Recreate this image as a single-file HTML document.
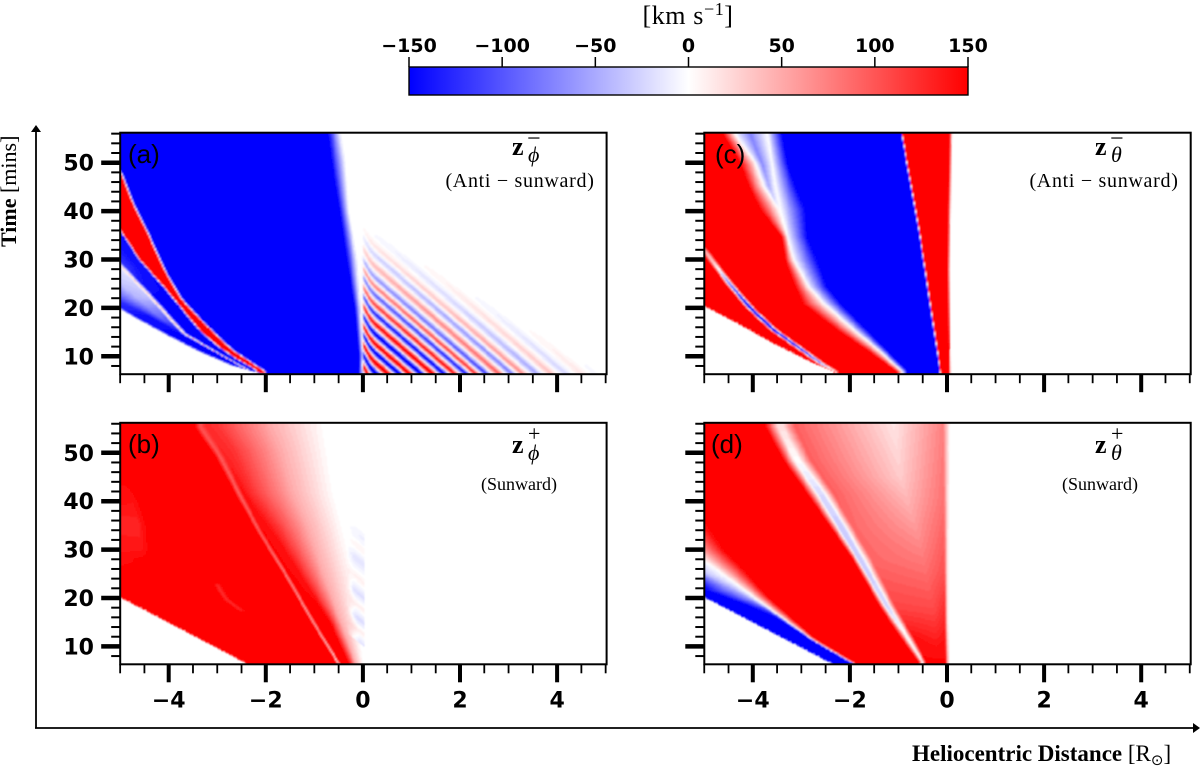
<!DOCTYPE html>
<html lang="en">
<head>
<meta charset="utf-8">
<title>Heliocentric distance vs time panels</title>
<style>
html,body{margin:0;padding:0;background:#fff;}
svg{display:block;}
.tick-label{font-family:"DejaVu Sans",sans-serif;font-weight:700;font-size:22px;fill:#000;}
.cb-label{font-family:"DejaVu Sans",sans-serif;font-weight:700;font-size:19px;fill:#000;}
.panel-letter{font-family:"Liberation Sans",sans-serif;font-size:26px;fill:#000;}
.serif{font-family:"Liberation Serif",serif;fill:#000;}
.sub{font-family:"Liberation Serif",serif;font-style:italic;font-size:22px;fill:#000;}
.bold-z{font-family:"Liberation Serif",serif;font-weight:700;font-size:26px;fill:#000;}
.note{font-family:"Liberation Serif",serif;font-size:20px;letter-spacing:0.7px;fill:#000;}
.note-short{font-family:"Liberation Serif",serif;font-size:18px;fill:#000;}
</style>
</head>
<body>
<svg id="figure" xmlns="http://www.w3.org/2000/svg" width="1200" height="768" viewBox="0 0 1200 768">
  <defs>
    <filter id="soft" filterUnits="userSpaceOnUse" x="0" y="0" width="1200" height="768"><feGaussianBlur stdDeviation="0.7"/></filter>
    <linearGradient id="bwr" x1="0" x2="1" y1="0" y2="0">
      <stop offset="0" stop-color="#0000ff"/><stop offset="0.5" stop-color="#ffffff"/><stop offset="1" stop-color="#ff0000"/>
    </linearGradient>
    <clipPath id="clip-a"><rect x="120" y="133" width="487" height="241"/></clipPath>
    <clipPath id="clip-b"><rect x="120" y="423.5" width="487" height="241"/></clipPath>
    <clipPath id="clip-c"><rect x="704" y="133" width="487" height="241"/></clipPath>
    <clipPath id="clip-d"><rect x="704" y="423.5" width="487" height="241"/></clipPath>
  </defs>
  <rect width="1200" height="768" fill="#fff"/>

  <g id="heat-layer"></g>
  <g id="axis-layer"></g>

  <!-- colour bar -->
  <g>
    <rect x="409" y="67" width="559" height="28" fill="url(#bwr)" stroke="#000" stroke-width="1.4"/>
    <g id="colorbar-ticks"></g>
    <text class="serif" x="688" y="24" font-size="26" letter-spacing="0.6" text-anchor="middle">[km s<tspan font-size="18" dy="-9">−1</tspan><tspan dy="9">]</tspan></text>
  </g>

  <!-- outer arrows -->
  <g>
    <line x1="36" y1="728" x2="36" y2="130" stroke="#000" stroke-width="1.8"/>
    <polygon points="36,125 31,132 41,132" fill="#000"/>
    <line x1="35" y1="728" x2="1194" y2="728" stroke="#000" stroke-width="1.8"/>
    <polygon points="1200,728 1193,723 1193,733" fill="#000"/>
  </g>
  <text class="serif" font-size="22" transform="translate(16,247) rotate(-90)"><tspan font-weight="700">Time</tspan> [mins]</text>
  <text class="serif" font-size="23" x="912" y="761"><tspan font-weight="700">Heliocentric Distance</tspan> [R<tspan font-size="15" dy="4" font-family="DejaVu Sans">⊙</tspan><tspan dy="-4">]</tspan></text>

  <!-- panel letters -->
  <text class="panel-letter" x="128" y="163">(a)</text>
  <text class="panel-letter" x="128" y="453">(b)</text>
  <text class="panel-letter" x="715" y="163">(c)</text>
  <text class="panel-letter" x="711" y="453">(d)</text>

  <!-- panel annotations -->
  <g>
    <text class="bold-z" x="512" y="155">z</text><text class="sub" x="528" y="162">ϕ</text><text class="serif" font-size="24" x="527" y="146">−</text>
    <text class="note" x="520" y="187" text-anchor="middle">(Anti − sunward)</text>
  </g>
  <g>
    <text class="bold-z" x="512" y="453">z</text><text class="sub" x="528" y="460">ϕ</text><text class="serif" font-size="22" x="528" y="441">+</text>
    <text class="note-short" x="519" y="490" text-anchor="middle">(Sunward)</text>
  </g>
  <g>
    <text class="bold-z" x="1095" y="155">z</text><text class="sub" x="1111" y="162">θ</text><text class="serif" font-size="24" x="1110" y="146">−</text>
    <text class="note" x="1104" y="187" text-anchor="middle">(Anti − sunward)</text>
  </g>
  <g>
    <text class="bold-z" x="1095" y="453">z</text><text class="sub" x="1111" y="460">θ</text><text class="serif" font-size="22" x="1111" y="441">+</text>
    <text class="note-short" x="1100" y="490" text-anchor="middle">(Sunward)</text>
  </g>
</svg>

<script>
/* ===== chart data: tick values and labels ===== */
const distanceMajorTicks = [-4, -2, 0, 2, 4];
const distanceTickLabels = ['−4', '−2', '0', '2', '4'];
const distanceMinorTicks = [-5, -4.5, -3.5, -3, -2.5, -1.5, -1, -0.5, 0.5, 1, 1.5, 2.5, 3, 3.5, 4.5, 5];
const timeMajorTicks = [10, 20, 30, 40, 50];
const timeTickLabels = ['10', '20', '30', '40', '50'];
const timeMinorTicks = [8, 12, 14, 16, 18, 22, 24, 26, 28, 32, 34, 36, 38, 42, 44, 46, 48, 52, 54, 56];
const colorbarTicks = [-150, -100, -50, 0, 50, 100, 150];
const colorbarLabels = ['−150', '−100', '−50', '0', '50', '100', '150'];

/* ===== heatmap data =====
   Each feature is a curve of [minutes, R_sun, km/s] samples. */

/* panel (a) */
const aEdge = [[6.3,-2.04,-150],[8,-2.66,-150],[11,-3.35,-150],[14.5,-4.03,-150],[18.3,-4.72,-140],[20,-5,-130],[25,-5.8,-130],[60,-9,-130]];
const aPaleStart = [[6.3,-2.25,-150],[11,-3.1,-150],[14.7,-3.83,-150],[18.1,-4.38,-140],[21.2,-4.98,-120],[24,-5.5,-120],[60,-8.5,-120]];
const aPaleMid = [[6.3,-2.25,-150],[11,-3.07,-150],[14.7,-3.75,-150],[18.1,-4.2,-85],[22,-4.65,-45],[26,-5.1,-30],[60,-8.4,-30]];
const aPinkLeft = [[6.8,-2.35,-150],[10.6,-3.05,-150],[14.7,-3.74,-135],[18.5,-4.1,-85],[22.3,-4.43,-35],[28.5,-5.03,-15],[60,-8.3,-15]];
const aPink = [[6.8,-2.32,70],[10.6,-3,70],[14.7,-3.69,55],[22.3,-4.38,40],[28.5,-4.98,30],[60,-8.25,30]];
const aPinkRight = [[6.8,-2.27,-150],[10.6,-2.95,-150],[14.7,-3.64,-150],[22.3,-4.31,-150],[28.5,-4.9,-120],[60,-8.2,-120]];
const aRedLower = [[7.1,-2.18,150],[9.9,-2.66,150],[12.3,-3,150],[15.4,-3.35,150],[19.5,-3.69,150],[23.7,-4.03,150],[29.9,-4.58,150],[36,-4.98,150],[40,-5.3,150],[60,-8,150]];
const aRedUpper = [[6.8,-2.04,150],[11.3,-2.72,150],[14.7,-3.08,150],[18.1,-3.42,150],[21.9,-3.77,150],[27.8,-4.11,150],[34.7,-4.42,150],[42.3,-4.79,150],[47.4,-4.98,150],[52,-5.3,150],[60,-6,150]];
const aBlueEnd = [[6.3,-0.08,-150],[10,-0.07,-150],[20,-0.16,-150],[30,-0.33,-150],[40,-0.47,-150],[50,-0.64,-150],[56.2,-0.72,-150]];
const aWhiteStart = [[6.3,0,0],[10,0,0],[20,-0.05,0],[30,-0.12,0],[40,-0.29,0],[50,-0.36,0],[56.2,-0.46,0]];
const aWaveCrests = [-0.2,0.01,0.29,0.53,0.77,0.97,1.21,1.45,1.69,1.9,2.14,2.34,2.55,2.82,3.09,3.3,3.6,3.9,4.2,4.53,4.85];
const aWaveSigns = [-1,1,-1,1,-1,1,-1,1,-1,1,-1,1,-1,1,-1,1,-1,1,-1,1,-1];
const aEnvelopePos = [0,0.3,0.45,0.6,0.8,1];
const aEnvelopeLevel = [260,220,150,90,35,0];

/* panel (b) */
const bEdge = [[6.4,-2.39,150],[20,-4.98,150],[25,-5.9,150],[60,-9,150]];
const bPatchA = [[20,-5.2,150],[26,-5,150],[30,-5,135],[36,-5,130],[40,-5,140],[44,-5,150],[56.2,-5,150]];
const bPatchB = [[6.3,-2.36,150],[28,-4.6,150],[30,-4.55,135],[35,-4.6,130],[40,-4.75,138],[44,-4.95,150],[56.2,-5,150]];
const bPatchC = [[6.3,-2.35,150],[28,-4.45,150],[30,-4.42,150],[35,-4.47,150],[40,-4.62,150],[44,-4.85,150],[56.2,-4.9,150]];
const bStreakL = [[6.3,-2.3,150],[17,-2.53,150],[19.5,-2.88,150],[23,-3.1,150],[56.2,-3.7,150]];
const bStreakC = [[6.3,-2.29,150],[17,-2.45,150],[17.5,-2.52,125],[19.5,-2.8,122],[22.6,-3,125],[23,-3.02,150],[56.2,-3.68,150]];
const bStreakR = [[6.3,-2.28,150],[17,-2.37,150],[19.5,-2.72,150],[23,-2.94,150],[56.2,-3.66,150]];
const bLineL = [[6.4,-0.53,150],[14.7,-1.04,150],[24.3,-1.6,150],[33.3,-2.16,150],[40.9,-2.59,150],[49.1,-3.03,150],[55.3,-3.47,150]];
const bLine = [[6.4,-0.5,15],[14.7,-1.01,45],[24.3,-1.56,70],[33.3,-2.11,90],[40.9,-2.52,90],[49.1,-2.94,95],[55.3,-3.35,100]];
const bLineR = [[6.4,-0.47,150],[14.7,-0.97,150],[24.3,-1.51,150],[33.3,-2.05,150],[40.9,-2.44,145],[49.1,-2.84,130],[55.3,-3.22,125]];
const bFadeHigh = [[6.4,-0.29,150],[14.7,-0.67,150],[24.3,-1.29,145],[34.7,-1.9,135],[41.6,-2.32,125],[50.5,-2.66,120],[55.3,-3,120]];
const bFadeMid = [[6.4,-0.15,50],[14.7,-0.45,50],[24.3,-0.8,50],[34.7,-1.15,50],[41.6,-1.45,50],[50.5,-1.7,50],[55.3,-1.9,50]];
const bFadeWhite = [[6.4,0,0],[14.7,-0.12,0],[24.3,-0.19,0],[34.7,-0.43,0],[41.6,-0.6,0],[50.5,-0.74,0],[55.3,-0.81,0]];
const bWaveCrests = [0.44,0.72,1,1.3,1.6,1.95,2.4,2.7,3,3.3,3.6];
const bWaveSigns = [-1,0.5,-1,0.5,-1,0.5,-1,0.5,-1,0.5,-1];
const bEnvelopePos = [0,0.2,0.7,1];
const bEnvelopeLevel = [18,22,18,0];

/* panel (c) */
const cEdge = [[6.8,-2.33,150],[8.5,-2.74,150],[12.6,-3.57,150],[16.8,-4.32,150],[20.2,-4.97,150],[25,-5.9,150],[60,-9,150]];
const cLineOuterL = [[6.8,-2.38,150],[8.5,-2.68,150],[12,-3.17,150],[15.4,-3.65,150],[19.9,-4.13,150],[24.7,-4.54,150],[29.2,-4.88,150],[31.6,-5.05,150],[60,-8.1,150]];
const cLineDarkL = [[6.8,-2.31,30],[8.5,-2.62,-60],[12,-3.11,-150],[15.4,-3.6,-150],[19.9,-4.08,-150],[24.7,-4.48,-80],[29.2,-4.82,30],[31.6,-4.99,50],[60,-8.05,50]];
const cLineDarkR = [[6.8,-2.29,30],[8.5,-2.58,-60],[12,-3.07,-150],[15.4,-3.54,-150],[19.9,-4.02,-150],[24.7,-4.44,-80],[29.2,-4.78,30],[31.6,-4.95,50],[60,-8,50]];
const cLineOuterR = [[6.8,-2.24,150],[8.5,-2.52,150],[12,-3.01,150],[15.4,-3.49,150],[19.9,-3.97,150],[24.7,-4.38,150],[29.2,-4.72,150],[31.6,-4.89,150],[60,-7.9,150]];
const cRedEnd = [[6.8,-1.03,150],[11.3,-1.65,150],[15.4,-2.26,150],[20.9,-2.98,150],[24.3,-3.12,150],[29.9,-3.33,150],[34.7,-3.4,150],[40.2,-3.84,150],[45,-4.08,150],[49.8,-4.25,150],[55.7,-4.6,150]];
const cWhiteOne = [[6.8,-0.93,0],[11.3,-1.42,0],[15.4,-1.92,0],[20.9,-2.54,0],[24.3,-2.85,0],[29.9,-3.16,0],[34.7,-3.29,0],[40.2,-3.46,0],[45,-3.77,0],[49.8,-3.94,0],[55.7,-4.36,0]];
const cLavender = [[6.8,-0.93,0],[11.3,-1.42,0],[15.4,-1.92,0],[20.9,-2.54,0],[24.3,-2.85,0],[29.9,-3.16,0],[34.7,-3.29,0],[40.2,-3.45,0],[45,-3.67,-50],[49.8,-3.81,-70],[55.7,-4.05,-75]];
const cWhiteTwo = [[6.8,-0.93,0],[11.3,-1.42,0],[15.4,-1.92,0],[20.9,-2.54,0],[24.3,-2.85,0],[29.9,-3.16,0],[34.7,-3.29,0],[40.2,-3.43,0],[45,-3.53,0],[49.8,-3.6,0],[55.7,-3.7,0]];
const cBlueStart = [[6.8,-0.82,-150],[11.3,-1.26,-150],[15.4,-1.66,-150],[20.9,-2.2,-150],[24.3,-2.47,-150],[29.9,-2.68,-150],[34.7,-2.88,-150],[40.2,-2.92,-150],[45,-3.12,-150],[49.8,-3.29,-150],[55.7,-3.4,-150]];
const cBlueEnd = [[6.8,-0.155,-150],[18.1,-0.325,-150],[27.8,-0.465,-150],[36,-0.595,-150],[45.7,-0.765,-150],[55.7,-0.945,-150]];
const cThinLine = [[6.8,-0.14,-30],[18.1,-0.31,-30],[27.8,-0.45,-30],[36,-0.58,-30],[45.7,-0.75,-30],[55.7,-0.93,-30]];
const cRedStart = [[6.8,-0.125,150],[18.1,-0.295,150],[27.8,-0.435,150],[36,-0.565,150],[45.7,-0.735,150],[55.7,-0.915,150]];
const cRedEdge = [[6.3,0.05,150],[28,0.02,150],[40,0.03,150],[56.2,0.06,150]];
const cRedEdgeWhite = [[6.3,0.08,0],[28,0.06,0],[40,0.08,0],[56.2,0.11,0]];

/* panel (d) */
const dEdge = [[6.4,-2.37,-150],[20,-4.97,-150],[25,-5.9,-150],[60,-9,-150]];
const dBlueEnd = [[6.4,-1.99,-150],[10.9,-2.74,-150],[16.1,-3.57,-150],[18.5,-4.12,-150],[21.6,-4.97,-150],[35,-6.5,-150]];
const dLavender = [[6.4,-1.95,-150],[11,-2.74,-150],[16.6,-3.57,-120],[20,-4.12,-60],[25,-4.97,-35],[38,-6.5,-35]];
const dWhite = [[6.4,-1.92,10],[11.1,-2.74,10],[17.1,-3.57,0],[21.2,-4.12,0],[27.4,-4.97,0],[40,-6.5,0]];
const dRedStart = [[6.4,-1.89,150],[11.6,-2.74,150],[20.2,-3.7,150],[25.7,-4.18,150],[29.9,-4.6,150],[35.4,-4.97,150],[50,-6.5,150]];
const dRedEnd = [[6.8,-0.58,150],[11.9,-0.96,150],[18.1,-1.37,150],[27.8,-1.92,150],[34.7,-2.4,150],[41.6,-2.88,150],[48.4,-3.36,150],[55.3,-3.74,150]];
const dStreakL = [[6.8,-0.52,10],[11.9,-0.84,5],[18.1,-1.26,-25],[27.8,-1.82,-30],[34.7,-2.24,-30],[41.6,-2.66,-22],[48.4,-3.14,0],[55.3,-3.48,20]];
const dStreakR = [[6.8,-0.5,10],[11.9,-0.8,5],[18.1,-1.2,-25],[27.8,-1.74,-30],[34.7,-2.14,-30],[41.6,-2.56,-22],[48.4,-3.04,0],[55.3,-3.38,20]];
const dPinkStart = [[6.8,-0.44,150],[11.9,-0.7,140],[18.1,-1.06,110],[27.8,-1.55,90],[34.7,-1.95,90],[41.6,-2.34,95],[48.4,-2.8,95],[55.3,-3.13,95]];
const dPaleCentre = [[6.8,-0.2,150],[17,-0.27,110],[31,-0.55,70],[45,-0.96,30],[56.2,-1.1,15]];
const dNearZero = [[6.3,-0.02,150],[15,-0.04,130],[25,-0.05,105],[40,-0.06,85],[56.2,-0.08,75]];
const dZeroWhite = [[6.3,0.03,0],[15,0.02,0],[25,0.02,0],[40,0.03,0],[56.2,0.06,0]];

/* ===== curve lists per panel (left-to-right across each time row) ===== */
const panelACurves = [shifted(aEdge,-0.06,0),aEdge,aPaleStart,aPaleMid,aPinkLeft,aPink,aPinkRight,shifted(aRedLower,-0.04,-150),aRedLower,aRedUpper,shifted(aRedUpper,0.05,-150),aBlueEnd,aWhiteStart];
const panelBCurves = [shifted(bEdge,-0.02,0),bEdge,bPatchA,bPatchB,bPatchC,bStreakL,bStreakC,bStreakR,bLineL,bLine,bLineR,bFadeHigh,bFadeMid,bFadeWhite];
const panelCCurves = [shifted(cEdge,-0.02,0),cEdge,cLineOuterL,cLineDarkL,cLineDarkR,cLineOuterR,cRedEnd,cWhiteOne,cLavender,cWhiteTwo,cBlueStart,cBlueEnd,cThinLine,cRedStart,cRedEdge,cRedEdgeWhite];
const panelDCurves = [shifted(dEdge,-0.02,0),dEdge,dBlueEnd,dLavender,dWhite,dRedStart,dRedEnd,dStreakL,dStreakR,dPinkStart,dPaleCentre,dNearZero,dZeroWhite];

function shifted(curve, dx, level){
  return curve.map(function(p){ return [p[0], p[1] + dx, level]; });
}

/* ===== scales ===== */
const SVGNS = 'http://www.w3.org/2000/svg';
const PX_PER_R = 48.55;
const PX_PER_MIN = 4.84;
const T_BOTTOM = 6.3;
const CELL_DX = 0.03;
const CELL_DT = 0.25;

function makeXScale(left){ return function(r){ return left + 242.7 + r * PX_PER_R; }; }
function makeYScale(bottom){ return function(t){ return bottom - (t - T_BOTTOM) * PX_PER_MIN; }; }

function sampleCurve(curve, t){
  if (t <= curve[0][0]) return [curve[0][1], curve[0][2]];
  for (let i = 1; i < curve.length; i++){
    if (t <= curve[i][0]){
      const a = curve[i-1], b = curve[i];
      const f = (t - a[0]) / (b[0] - a[0]);
      return [a[1] + f * (b[1] - a[1]), a[2] + f * (b[2] - a[2])];
    }
  }
  const last = curve[curve.length-1];
  return [last[1], last[2]];
}
function lookup(xs, ys, x){
  if (x < xs[0] || x > xs[xs.length-1]) return 0;
  for (let i = 1; i < xs.length; i++){
    if (x <= xs[i]){
      const f = (x - xs[i-1]) / (xs[i] - xs[i-1]);
      return ys[i-1] + f * (ys[i] - ys[i-1]);
    }
  }
  return 0;
}
function colourOf(v){
  const q = Math.max(-1, Math.min(1, v / 150));
  if (q >= 0){ const g = Math.round(255 * (1 - q)); return 'rgb(255,' + g + ',' + g + ')'; }
  const g = Math.round(255 * (1 + q));
  return 'rgb(' + g + ',' + g + ',255)';
}

/* ===== panels ===== */
const panelConfigs = [
  {id:'a', left:120.2, bottom:374.2, curves:panelACurves, labels:false,
   wave:{crests:aWaveCrests, signs:aWaveSigns, pos:aEnvelopePos, level:aEnvelopeLevel, xmin:-0.02, xmax:5.1, speed:0.115, taper:0.05, bend:0.6}},
  {id:'b', left:120.2, bottom:664.3, curves:panelBCurves, labels:true,
   wave:{crests:bWaveCrests, signs:bWaveSigns, pos:bEnvelopePos, level:bEnvelopeLevel, xmin:-0.34, xmax:0.04, speed:0.115, taper:0.16, bend:0}},
  {id:'c', left:704.3, bottom:374.2, curves:panelCCurves, labels:false, wave:null},
  {id:'d', left:704.3, bottom:664.3, curves:panelDCurves, labels:true, wave:null}
];

function waveValue(w, x, t){
  if (!w || x < w.xmin || x > w.xmax) return 0;
  const near = Math.max(0, 0.3 - x);
  const base = x - w.bend * near * near / 0.3 + w.speed * (t - T_BOTTOM);
  const u = Math.max(0, (x > 0 ? x : 0) / 5 + (t - T_BOTTOM) / 31);
  const taper = Math.min(1, (x - w.xmin) / w.taper);
  return lookup(w.crests, w.signs, base) * lookup(w.pos, w.level, Math.min(u, 1)) * taper;
}

function drawPanel(cfg){
  const xOf = makeXScale(cfg.left), yOf = makeYScale(cfg.bottom);
  const heat = document.getElementById('heat-layer');
  const clipGroup = document.createElementNS(SVGNS, 'g');
  clipGroup.setAttribute('clip-path', 'url(#clip-' + cfg.id + ')');
  
  
  const soft = document.createElementNS(SVGNS, 'g');
  soft.setAttribute('filter', 'url(#soft)');
  soft.setAttribute('shape-rendering', 'crispEdges');
  clipGroup.appendChild(soft);
  heat.appendChild(clipGroup);

  for (let t = T_BOTTOM; t < 56.5; t += CELL_DT){
    const xs = [], vs = [];
    let run = -Infinity;
    cfg.curves.forEach(function(c){
      const s = sampleCurve(c, t);
      run = Math.max(run, s[0]);
      xs.push(run); vs.push(s[1]);
    });
    let idx = 0, runStart = null, runVal = null;
    const flush = function(endX){
      if (runStart === null || runVal === 0) return;
      const cell = document.createElementNS(SVGNS, 'rect');
      
      
      cell.setAttribute('x', xOf(runStart).toFixed(2));
      cell.setAttribute('y', (yOf(t + CELL_DT)).toFixed(2));
      cell.setAttribute('width', (PX_PER_R * (endX - runStart) + 0.3).toFixed(2));
      cell.setAttribute('height', (PX_PER_MIN * CELL_DT + 0.3).toFixed(2));
      cell.setAttribute('fill', colourOf(runVal));
      soft.appendChild(cell);
    };
    for (let x = -5.04; x < 5.06; x += CELL_DX){
      const cx = x + CELL_DX / 2;
      while (idx < xs.length && xs[idx] <= cx) idx++;
      let v;
      if (idx === 0) v = vs[0];
      else if (idx >= xs.length) v = vs[vs.length-1];
      else {
        const w = xs[idx] - xs[idx-1];
        v = w > 0 ? vs[idx-1] + (cx - xs[idx-1]) / w * (vs[idx] - vs[idx-1]) : vs[idx];
      }
      v += waveValue(cfg.wave, cx, t + CELL_DT / 2);
      v = Math.max(-150, Math.min(150, v));
      const q = Math.round(v / 5) * 5;
      if (q !== runVal){ flush(x); runStart = x; runVal = q; }
    }
    flush(5.06);
  }
  drawAxes(cfg, xOf, yOf);
}

function makeTick(layer, name, x1, y1, x2, y2, width){
  const tick = document.createElementNS(SVGNS, 'line');
  
  
  tick.setAttribute('x1', x1); tick.setAttribute('y1', y1);
  tick.setAttribute('x2', x2); tick.setAttribute('y2', y2);
  tick.setAttribute('stroke', '#000');
  tick.setAttribute('stroke-width', width);
  layer.appendChild(tick);
}
function makeLabel(layer, name, cls, x, y, anchor, content){
  const label = document.createElementNS(SVGNS, 'text');
  
  
  label.setAttribute('class', cls);
  label.setAttribute('x', x); label.setAttribute('y', y);
  label.setAttribute('text-anchor', anchor);
  label.textContent = content;
  layer.appendChild(label);
}

function drawAxes(cfg, xOf, yOf){
  const layer = document.getElementById('axis-layer');
  const frame = document.createElementNS(SVGNS, 'rect');
  
  
  frame.setAttribute('x', cfg.left);
  frame.setAttribute('y', cfg.bottom - 241.5);
  frame.setAttribute('width', 486.4);
  frame.setAttribute('height', 241.5);
  frame.setAttribute('fill', 'none');
  frame.setAttribute('stroke', '#000');
  frame.setAttribute('stroke-width', 2);
  layer.appendChild(frame);

  distanceMinorTicks.forEach(function(r){
    makeTick(layer, 'x-minor-tick', xOf(r), cfg.bottom, xOf(r), cfg.bottom + 9, 1.8);
  });
  distanceMajorTicks.forEach(function(r, i){
    makeTick(layer, 'x-major-tick', xOf(r), cfg.bottom, xOf(r), cfg.bottom + 18, 4);
    if (cfg.labels) makeLabel(layer, 'x-tick-label', 'tick-label', xOf(r), cfg.bottom + 43, 'middle', distanceTickLabels[i]);
  });
  timeMinorTicks.forEach(function(t){
    makeTick(layer, 'y-minor-tick', cfg.left, yOf(t), cfg.left - 9, yOf(t), 2);
  });
  timeMajorTicks.forEach(function(t, i){
    makeTick(layer, 'y-major-tick', cfg.left, yOf(t), cfg.left - 19, yOf(t), 4.5);
    if (cfg.id === 'a' || cfg.id === 'b') makeLabel(layer, 'y-tick-label', 'tick-label', 94, yOf(t) + 8, 'end', timeTickLabels[i]);
  });
}

panelConfigs.forEach(drawPanel);

/* ===== colour bar ticks ===== */
const cbLayer = document.getElementById('colorbar-ticks');
function cbX(v){ return 409 + (v + 150) / 300 * 559; }
colorbarTicks.forEach(function(v, i){
  makeTick(cbLayer, 'colorbar-tick', cbX(v), 57, cbX(v), 67, 1.5);
  makeLabel(cbLayer, 'colorbar-tick-label', 'cb-label', cbX(v), 52, 'middle', colorbarLabels[i]);
});
</script>
</body>
</html>
